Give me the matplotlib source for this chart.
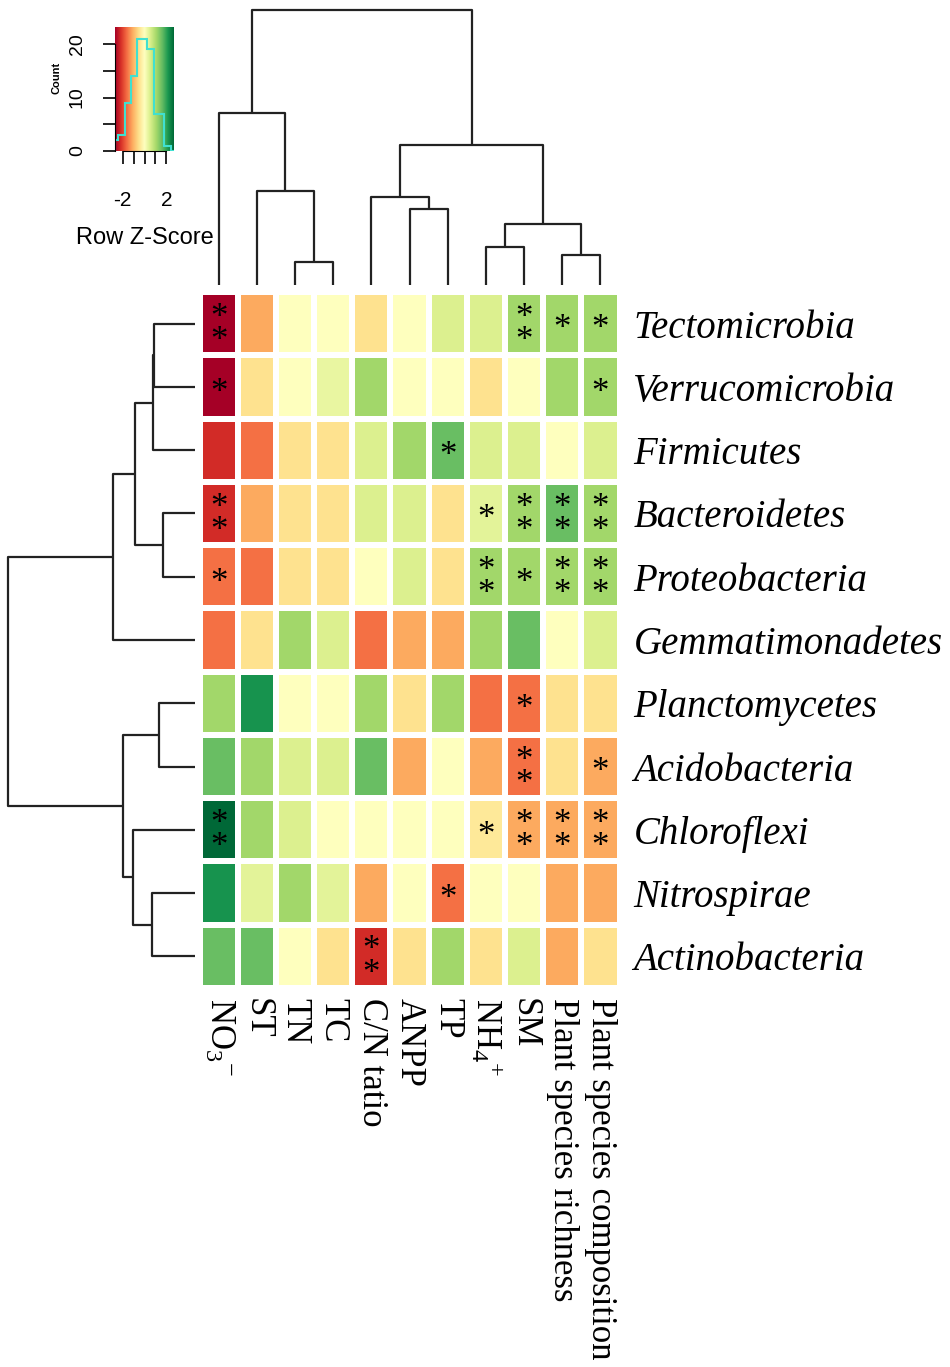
import numpy as np
import matplotlib
matplotlib.use('Agg')
import matplotlib.pyplot as plt

plt.rcParams['mathtext.fontset'] = 'custom'
plt.rcParams['mathtext.rm'] = 'Liberation Serif'
plt.rcParams['mathtext.it'] = 'Liberation Serif:italic'

# rows (phyla) and columns (environmental factors), in the plotted order
phyla = ['Tectomicrobia', 'Verrucomicrobia', 'Firmicutes', 'Bacteroidetes',
         'Proteobacteria', 'Gemmatimonadetes', 'Planctomycetes', 'Acidobacteria',
         'Chloroflexi', 'Nitrospirae', 'Actinobacteria']
factors = [r'NO$_3$$^{-}$', 'ST', 'TN', 'TC', 'C/N tatio', 'ANPP', 'TP',
           r'NH$_4$$^{+}$', 'SM', 'Plant species richness', 'Plant species composition']

# row z-scores
zscore = [
    [-2.7, -1.1, 0.0, 0.0, -0.5, 0.0, 0.5, 0.5, 1.1, 1.1, 1.1],
    [-2.7, -0.5, 0.0, 0.3, 1.1, 0.0, 0.0, -0.5, 0.0, 1.1, 1.1],
    [-2.2, -1.6, -0.5, -0.5, 0.5, 1.1, 1.6, 0.5, 0.5, 0.0, 0.5],
    [-2.2, -1.1, -0.5, -0.5, 0.5, 0.5, -0.5, 0.4, 1.1, 1.6, 1.1],
    [-1.6, -1.6, -0.5, -0.5, 0.0, 0.5, -0.5, 1.1, 1.1, 1.1, 1.1],
    [-1.6, -0.5, 1.1, 0.5, -1.6, -1.1, -1.1, 1.1, 1.6, 0.0, 0.5],
    [1.1, 2.2, 0.0, 0.0, 1.1, -0.5, 1.1, -1.6, -1.6, -0.5, -0.5],
    [1.6, 1.1, 0.5, 0.5, 1.6, -1.1, 0.0, -1.1, -1.6, -0.5, -1.1],
    [2.7, 1.1, 0.5, 0.0, 0.0, 0.0, 0.0, -0.4, -1.1, -1.1, -1.1],
    [2.2, 0.4, 1.1, 0.4, -1.1, 0.0, -1.6, 0.0, 0.0, -1.1, -1.1],
    [1.6, 1.6, 0.0, -0.5, -2.2, -0.5, 1.1, -0.5, 0.5, -1.1, -0.5],
]

# significance marks
signif = [
    ['**', '', '', '', '', '', '', '', '**', '*', '*'],
    ['*', '', '', '', '', '', '', '', '', '', '*'],
    ['', '', '', '', '', '', '*', '', '', '', ''],
    ['**', '', '', '', '', '', '', '*', '**', '**', '**'],
    ['*', '', '', '', '', '', '', '**', '*', '**', '**'],
    ['', '', '', '', '', '', '', '', '', '', ''],
    ['', '', '', '', '', '', '', '', '*', '', ''],
    ['', '', '', '', '', '', '', '', '**', '', '*'],
    ['**', '', '', '', '', '', '', '*', '**', '**', '**'],
    ['', '', '', '', '', '', '*', '', '', '', ''],
    ['', '', '', '', '**', '', '', '', '', '', ''],
]

# dendrogram merges (left node, right node, height); new nodes numbered from 11
col_merges = [(2, 3, 23), (1, 11, 94), (0, 12, 172), (5, 6, 76), (4, 14, 88),
              (7, 8, 38), (9, 10, 30), (16, 17, 61), (15, 18, 140), (13, 19, 275)]
row_merges = [(0, 1, 40.7), (11, 2, 42.3), (3, 4, 31.7), (12, 13, 60), (14, 5, 81.7),
              (6, 7, 36), (9, 10, 43.3), (8, 17, 61.7), (16, 18, 71.7), (15, 19, 187)]

# colour key histogram
key_edges = [-2.7, -2.4, -1.75, -1.2, -0.65, 0.2, 0.9, 1.75, 2.4, 2.7]
key_counts = [2, 3, 9, 14, 21, 19, 7, 1, 0]

W, H = 950, 1367
fig = plt.figure(figsize=(W / 100, H / 100), dpi=100)


def box(x0, y0, x1, y1):
    return [x0 / W, 1 - y1 / H, (x1 - x0) / W, (y1 - y0) / H]


def dendro_lines(ax, merges, n, horizontal):
    pos = {i: i + 0.5 for i in range(n)}
    hgt = {i: 0.0 for i in range(n)}
    for k, (a, b, h) in enumerate(merges):
        pa, pb = pos[a], pos[b]
        xs = [hgt[a], h, h, hgt[b]]
        ys = [pa, pa, pb, pb]
        if horizontal:
            ax.plot(xs, ys, color='#222222', lw=1.6, clip_on=False, solid_capstyle='butt')
        else:
            ax.plot(ys, xs, color='#222222', lw=1.6, clip_on=False, solid_capstyle='butt')
        pos[n + k] = (pa + pb) / 2
        hgt[n + k] = h


vals = np.array(zscore)
nr, nc = vals.shape

# heatmap
ax = fig.add_axes(box(199.5, 292, 619.5, 988))
ax.pcolormesh(vals, cmap='RdYlGn', vmin=-2.7, vmax=2.7, edgecolors='white', linewidth=4)
ax.set_xlim(0, nc)
ax.set_ylim(nr, 0)
for s in ax.spines.values():
    s.set_visible(False)
ax.set_xticks(np.arange(nc) + 0.5)
ax.set_xticklabels(factors, rotation=270, fontsize=25, family='Liberation Serif',
                   ha='center', va='top')
ax.tick_params(axis='x', length=0, pad=7)
ax.yaxis.tick_right()
ax.set_yticks(np.arange(nr) + 0.5)
ax.set_yticklabels(phyla, fontsize=28, family='Liberation Serif', style='italic')
ax.tick_params(axis='y', length=0, pad=10)

# significance stars, "**" stacked in one text
for i in range(nr):
    for j in range(nc):
        s = signif[i][j]
        if s:
            ax.text(j + 0.5, i + 0.6, '\n'.join(s), ha='center', va='center',
                    fontsize=25, family='Liberation Serif', linespacing=0.62)

# column dendrogram
axc = fig.add_axes(box(199.5, 10, 619.5, 285))
dendro_lines(axc, col_merges, nc, horizontal=False)
axc.set_xlim(0, nc)
axc.set_ylim(0, 275)
axc.axis('off')

# row dendrogram
axr = fig.add_axes(box(8, 292, 195, 988))
dendro_lines(axr, row_merges, nr, horizontal=True)
axr.set_xlim(187, 0)
axr.set_ylim(nr, 0)
axr.axis('off')

# colour key
axk = fig.add_axes(box(115, 27, 174, 151))
grad = np.linspace(-2.7, 2.7, 256).reshape(1, -1)
axk.imshow(grad, cmap='RdYlGn', aspect='auto', extent=[-2.7, 2.7, 0, 23.2],
           vmin=-2.7, vmax=2.7)
axk.stairs(key_counts, key_edges, color='#40e0d0', lw=1.5)
axk.set_xlim(-2.7, 2.7)
axk.set_ylim(0, 23.2)
for s in ['top', 'right']:
    axk.spines[s].set_visible(False)
axk.spines['left'].set_bounds(0, 20)
axk.spines['bottom'].set_bounds(-2, 2)
axk.set_xticks([-2, -1, 0, 1, 2])
axk.set_xticklabels(['-2', '', '', '', '2'], fontsize=15, family='Liberation Sans')
axk.set_yticks([0, 5, 10, 15, 20])
axk.set_yticklabels(['0', '', '10', '', '20'], fontsize=14, family='Liberation Sans',
                    rotation=90, va='center')
axk.tick_params(axis='x', length=9, width=1.2, pad=20)
axk.tick_params(axis='y', length=9, width=1.2, pad=12)
axk.set_xlabel('Row Z-Score', fontsize=17, family='Liberation Sans', labelpad=12)
fig.text(57 / W, 1 - 78 / H, 'Count', rotation=90, fontsize=8, weight='bold',
         family='Liberation Sans', ha='center', va='center')

fig.savefig('out.png', dpi=100, facecolor='white')
